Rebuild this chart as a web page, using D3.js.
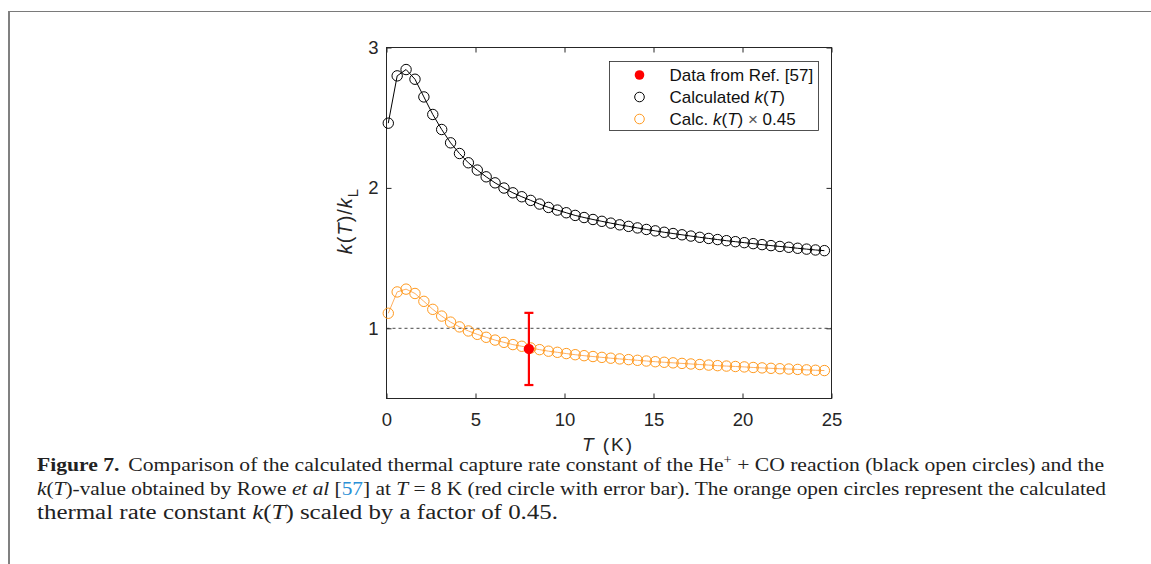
<!DOCTYPE html>
<html>
<head>
<meta charset="utf-8">
<script src="https://cdn.jsdelivr.net/npm/d3@7"></script>
<style>
  body { margin: 0; background: #fff; }
  svg { display: block; }
  .ax text { font-family: "Liberation Sans", Arial, sans-serif; font-size: 18.5px; fill: #262626; }
</style>
</head>
<body>
<svg id="chart" width="1151" height="564"></svg>
<script>
// temperatures (K)
var temps = [0.1, 0.6, 1.1, 1.6, 2.1, 2.6, 3.1, 3.6, 4.1, 4.6, 5.1, 5.6, 6.1, 6.6, 7.1, 7.6, 8.1, 8.6, 9.1, 9.6,
             10.1, 10.6, 11.1, 11.6, 12.1, 12.6, 13.1, 13.6, 14.1, 14.6, 15.1, 15.6, 16.1, 16.6, 17.1, 17.6, 18.1, 18.6, 19.1, 19.6,
             20.1, 20.6, 21.1, 21.6, 22.1, 22.6, 23.1, 23.6, 24.1, 24.6];
// calculated k(T)/kL
var calcK = [2.461, 2.798, 2.843, 2.774, 2.648, 2.523, 2.416, 2.321, 2.245, 2.179, 2.127, 2.079, 2.036, 1.999, 1.965, 1.937, 1.911, 1.885, 1.861, 1.842,
             1.823, 1.804, 1.789, 1.775, 1.762, 1.749, 1.737, 1.726, 1.715, 1.704, 1.694, 1.684, 1.675, 1.666, 1.657, 1.648, 1.640, 1.632, 1.624, 1.617,
             1.610, 1.603, 1.596, 1.589, 1.583, 1.577, 1.570, 1.564, 1.558, 1.553];
// calculated k(T) x 0.45
var scaledK = [1.107, 1.259, 1.279, 1.248, 1.192, 1.135, 1.087, 1.044, 1.010, 0.981, 0.957, 0.936, 0.916, 0.900, 0.884, 0.872, 0.860, 0.848, 0.837, 0.829,
               0.820, 0.812, 0.805, 0.799, 0.793, 0.787, 0.782, 0.777, 0.772, 0.767, 0.762, 0.758, 0.754, 0.750, 0.746, 0.742, 0.738, 0.734, 0.731, 0.728,
               0.725, 0.721, 0.718, 0.715, 0.712, 0.710, 0.707, 0.704, 0.701, 0.699];
// Rowe et al [57]
var refT = [8];
var refK = [0.853];
var refErr = [0.257];

var xTicks = [0, 5, 10, 15, 20, 25];
var yTicks = [1, 2, 3];

var svg = d3.select("#chart");
var pLeft = 386.5, pRight = 831.5, pTop = 47.5, pBottom = 398.5;

var x = d3.scaleLinear().domain([0, 25]).range([pLeft, pRight]);
var y = d3.scaleLinear().domain([0.5, 3]).range([pBottom, pTop]);

// page frame
svg.append("line").attr("x1", 9).attr("x2", 1151).attr("y1", 11.5).attr("y2", 11.5)
    .attr("stroke", "#7a7a7a").attr("stroke-width", 1.2);
svg.append("line").attr("x1", 9).attr("x2", 9).attr("y1", 11).attr("y2", 564)
    .attr("stroke", "#808080").attr("stroke-width", 2);

// dashed line at 1
svg.append("line").attr("x1", x(0)).attr("x2", x(25)).attr("y1", y(1)).attr("y2", y(1))
    .attr("stroke", "#333").attr("stroke-width", 0.9).attr("stroke-dasharray", "3,3");

// axes (ticks inside, all four sides)
var tick = 5;
var fmt = d3.format("d");
svg.append("g").attr("class", "ax").attr("transform", "translate(0," + pBottom + ")")
    .call(d3.axisBottom(x).tickValues(xTicks).tickFormat(fmt).tickSizeInner(-tick).tickSizeOuter(0).tickPadding(14))
    .call(function (g) { g.select(".domain").remove(); });
svg.append("g").attr("class", "ax").attr("transform", "translate(" + pLeft + ",0)")
    .call(d3.axisLeft(y).tickValues(yTicks).tickFormat(fmt).tickSizeInner(-tick).tickSizeOuter(0).tickPadding(8))
    .call(function (g) { g.select(".domain").remove(); });
svg.append("g").attr("class", "ax").attr("transform", "translate(0," + pTop + ")")
    .call(d3.axisTop(x).tickValues(xTicks).tickSizeInner(-tick).tickSizeOuter(0).tickFormat(""))
    .call(function (g) { g.select(".domain").remove(); });
svg.append("g").attr("class", "ax").attr("transform", "translate(" + pRight + ",0)")
    .call(d3.axisRight(y).tickValues(yTicks).tickSizeInner(-tick).tickSizeOuter(0).tickFormat(""))
    .call(function (g) { g.select(".domain").remove(); });
svg.selectAll(".ax .tick line").attr("stroke", "#262626");
svg.append("rect").attr("x", pLeft).attr("y", pTop).attr("width", pRight - pLeft).attr("height", pBottom - pTop)
    .attr("fill", "none").attr("stroke", "#262626").attr("stroke-width", 1);

var line = d3.line().x(function (d) { return x(d[0]); }).y(function (d) { return y(d[1]); });

function drawSeries(vals, lineColor, markColor) {
    var pts = temps.map(function (t, i) { return [t, vals[i]]; });
    svg.append("path").datum(pts).attr("d", line).attr("fill", "none")
        .attr("stroke", lineColor).attr("stroke-width", 1);
    svg.append("g").selectAll("circle").data(pts).join("circle")
        .attr("cx", function (d) { return x(d[0]); })
        .attr("cy", function (d) { return y(d[1]); })
        .attr("r", 5.2).attr("fill", "none").attr("stroke", markColor).attr("stroke-width", 1);
}
drawSeries(calcK, "#000", "#000");
drawSeries(scaledK, "#ffb060", "#ff9a1f");

// reference point with error bar
refT.forEach(function (t, i) {
    var cx = x(t);
    svg.append("line").attr("x1", cx).attr("x2", cx)
        .attr("y1", y(refK[i] + refErr[i])).attr("y2", y(refK[i] - refErr[i]))
        .attr("stroke", "#f00").attr("stroke-width", 2.2);
    [refK[i] + refErr[i], refK[i] - refErr[i]].forEach(function (v) {
        svg.append("line").attr("x1", cx - 4.5).attr("x2", cx + 4.5).attr("y1", y(v)).attr("y2", y(v))
            .attr("stroke", "#f00").attr("stroke-width", 2.2);
    });
    svg.append("circle").attr("cx", cx).attr("cy", y(refK[i])).attr("r", 5.2).attr("fill", "#f00");
});

// legend
var lg = svg.append("g").attr("transform", "translate(609.5,61.5)");
lg.append("rect").attr("width", 209).attr("height", 69).attr("fill", "#fff")
    .attr("stroke", "#262626").attr("stroke-width", 0.8);
var rows = [
    {fill: "#f00", stroke: "none", html: "Data from Ref. [57]"},
    {fill: "none", stroke: "#000", html: "Calculated <tspan font-style='italic'>k</tspan>(<tspan font-style='italic'>T</tspan>)"},
    {fill: "none", stroke: "#ff9a1f", html: "Calc. <tspan font-style='italic'>k</tspan>(<tspan font-style='italic'>T</tspan>) <tspan fill='#555'>×</tspan> 0.45"}
];
rows.forEach(function (r, i) {
    var yy = 13.5 + i * 22;
    lg.append("circle").attr("cx", 30).attr("cy", yy).attr("r", 4.8)
        .attr("fill", r.fill).attr("stroke", r.stroke).attr("stroke-width", 1);
    lg.append("text").attr("x", 60).attr("y", yy + 6)
        .style("font-family", "'Liberation Sans', Arial, sans-serif").style("font-size", "17px").attr("fill", "#111")
        .html(r.html);
});

// axis labels
svg.append("text").attr("x", 607).attr("y", 451).attr("text-anchor", "middle")
    .attr("textLength", 50).attr("lengthAdjust", "spacing")
    .style("font-family", "'Liberation Sans', Arial, sans-serif").style("font-size", "19px").attr("fill", "#262626")
    .html("<tspan font-style='italic'>T</tspan> (K)");
svg.append("text").attr("transform", "translate(352,221) rotate(-90)").attr("text-anchor", "middle")
    .style("font-family", "'Liberation Sans', Arial, sans-serif").style("font-size", "20px")
    .style("letter-spacing", "1px").attr("fill", "#262626")
    .html("<tspan font-style='italic'>k</tspan>(<tspan font-style='italic'>T</tspan>)/<tspan font-style='italic'>k</tspan><tspan dy='6' font-size='15px'>L</tspan>");

// caption
var cap = svg.append("g").style("font-family", "'Liberation Serif', 'DejaVu Serif', serif")
    .style("font-size", "19.5px").attr("fill", "#222");
var capLines = [
    {y: 471, w: 1067, fs: 19.5, html: "<tspan font-weight='bold'>Figure 7.</tspan><tspan dx='8'>Comparison of the calculated thermal capture rate constant of the He</tspan><tspan dy='-7' font-size='13px'>+</tspan><tspan dy='7'> + CO reaction (black open circles) and the</tspan>"},
    {y: 495, w: 1069, fs: 19.5, html: "<tspan font-style='italic'>k</tspan>(<tspan font-style='italic'>T</tspan>)-value obtained by Rowe <tspan font-style='italic'>et al</tspan> [<tspan fill='#2a8fd6'>57</tspan>] at <tspan font-style='italic'>T</tspan> = 8 K (red circle with error bar). The orange open circles represent the calculated"},
    {y: 519, w: 521, fs: 20.5, html: "thermal rate constant <tspan font-style='italic'>k</tspan>(<tspan font-style='italic'>T</tspan>) scaled by a factor of 0.45."}
];
capLines.forEach(function (c) {
    cap.append("text").attr("x", 37).attr("y", c.y).style("font-size", c.fs + "px")
        .attr("textLength", c.w).attr("lengthAdjust", "spacingAndGlyphs").html(c.html);
});
</script>
</body>
</html>
